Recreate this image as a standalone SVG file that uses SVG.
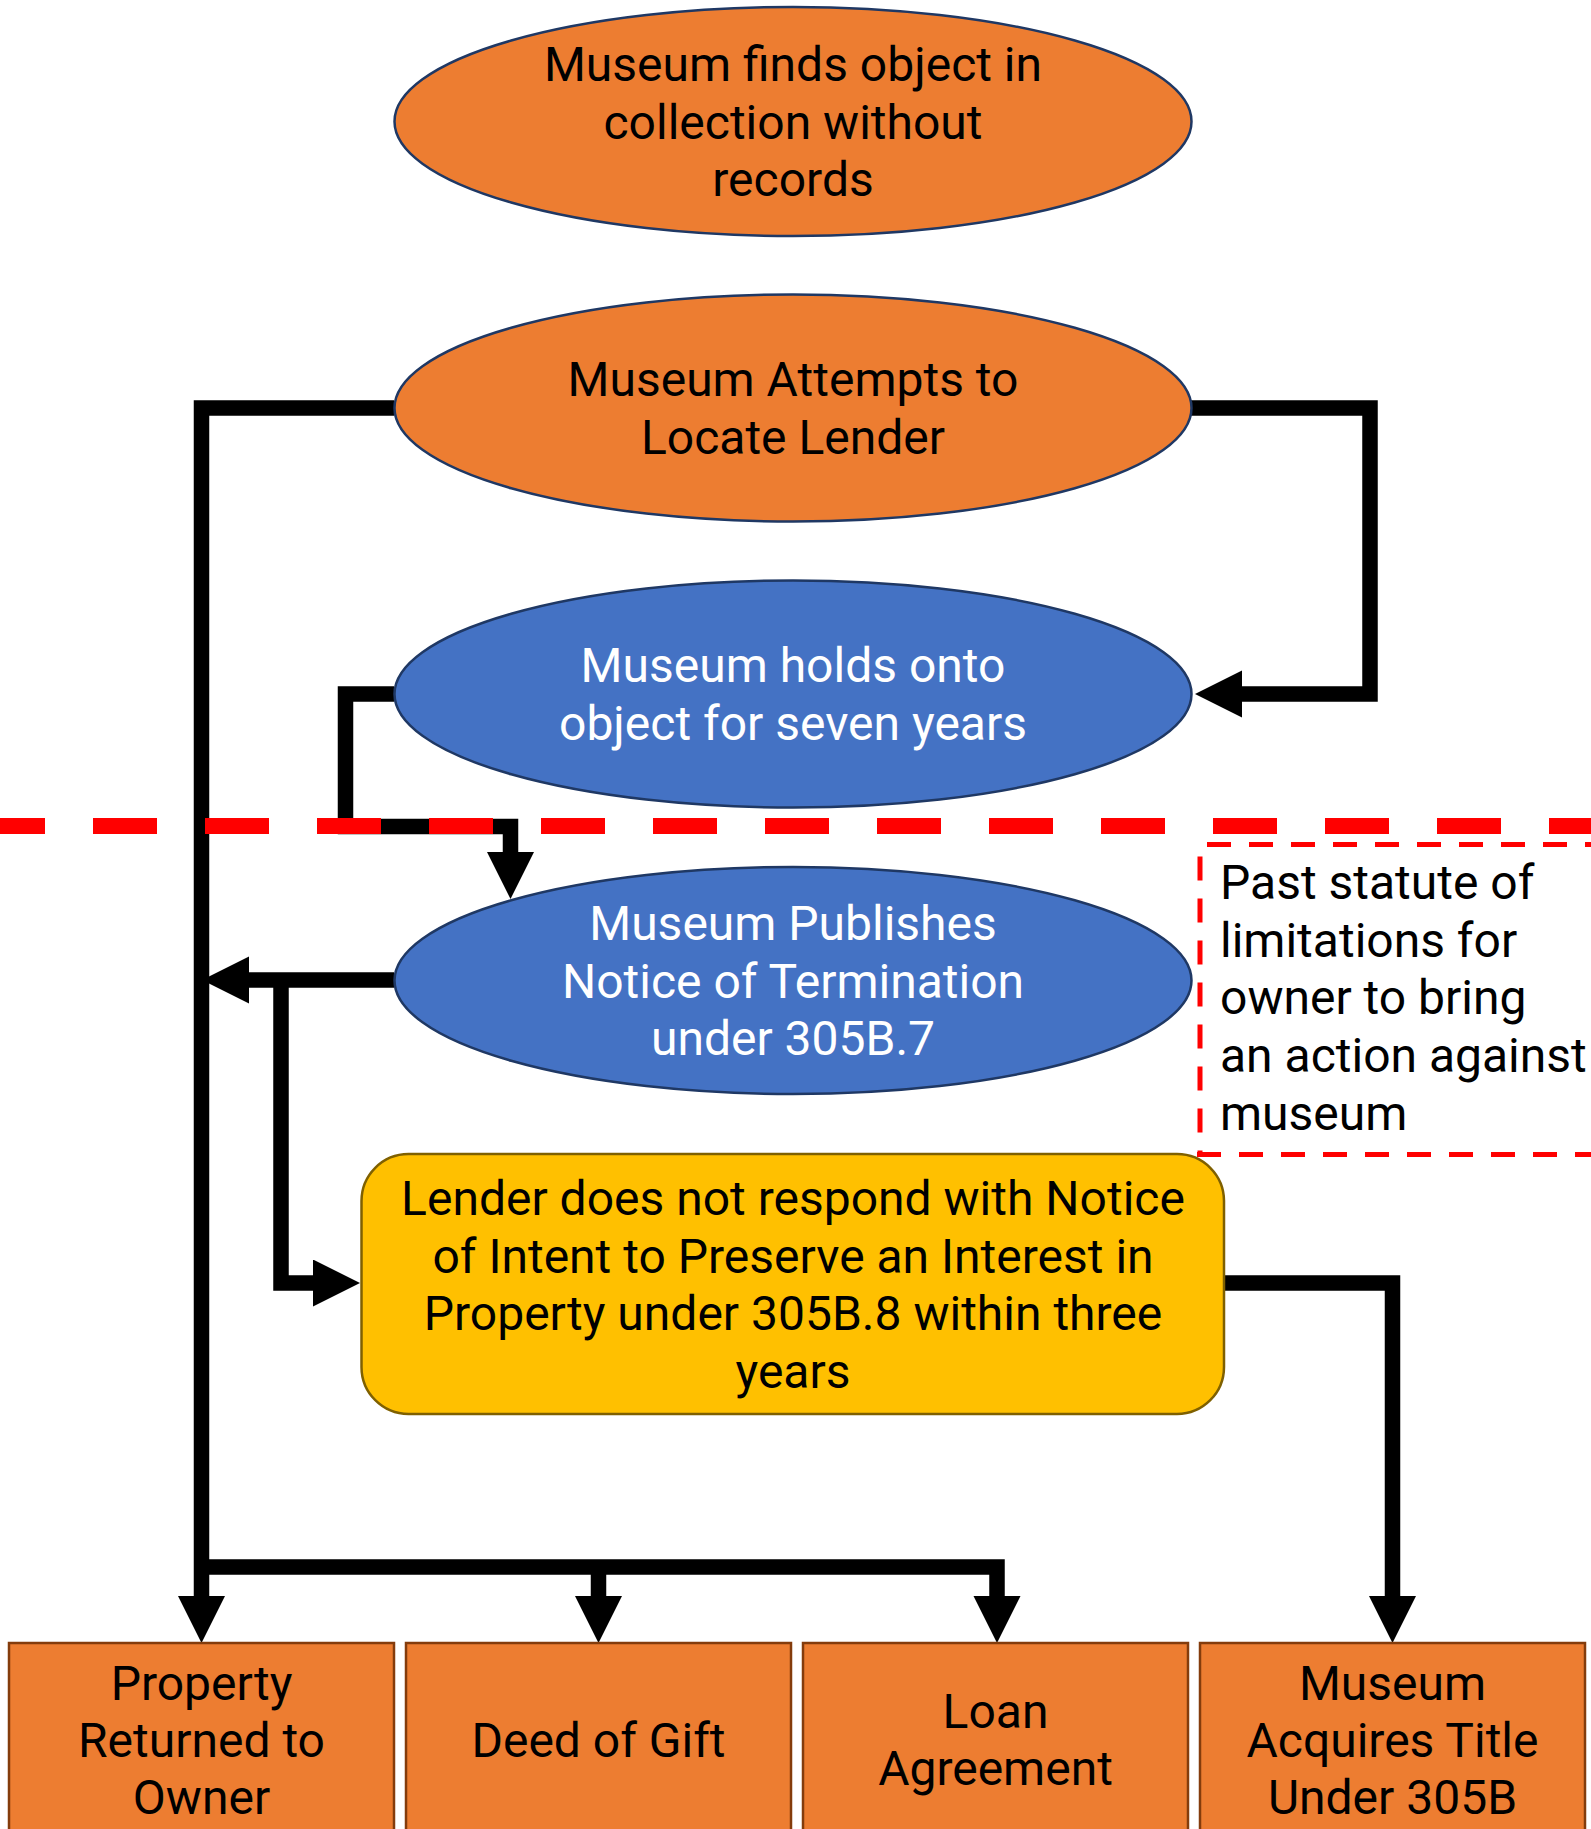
<svg xmlns="http://www.w3.org/2000/svg" width="1591" height="1829" viewBox="0 0 1591 1829">
<style>
.t{font-family:Roboto,"Liberation Sans",sans-serif;font-size:48px;text-anchor:middle;fill:#000}
.w{fill:#fff}
.l{text-anchor:start}
.eo{fill:#ED7D31;stroke:#1F3864;stroke-width:2.5}
.eb{fill:#4472C4;stroke:#1F3864;stroke-width:2.5}
.bx{fill:#ED7D31;stroke:#843C0C;stroke-width:2.5}
.yl{fill:#FFC000;stroke:#7F6000;stroke-width:2.5}
.c{fill:none;stroke:#000;stroke-width:15.5;stroke-linejoin:miter;stroke-linecap:butt;marker-end:url(#ah)}
.rd{fill:none;stroke:#FF0000;stroke-width:5;stroke-dasharray:24 18}
</style>
<defs>
<marker id="ah" markerUnits="userSpaceOnUse" markerWidth="48" markerHeight="48" refX="0" refY="23.5" orient="auto" viewBox="0 0 48 48">
<path d="M0,0 L47,23.5 L0,47 z" fill="#000"/>
</marker>
</defs>

<g id="connectors">
<path class="c" d="M1191,408 H1370 V694 H1242"/>
<path class="c" d="M394,694 H345.5 V826.5 H510.5 V852"/>
<path class="c" d="M394,980 H249"/>
<path class="c" d="M281,980 V1283 H313"/>
<path class="c" d="M394,408 H201.5 V1596"/>
<path class="c" d="M201.5,1567 H997 V1596"/>
<path class="c" d="M598.5,1567 V1596"/>
<path class="c" d="M1224,1283 H1392.5 V1596"/>
</g>

<g id="n1">
<ellipse class="eo" cx="793" cy="121.5" rx="398.5" ry="114.5"/>
<text class="t" x="793" y="81">Museum finds object in</text>
<text class="t" x="793" y="138.5">collection without</text>
<text class="t" x="793" y="196">records</text>
</g>

<g id="n2">
<ellipse class="eo" cx="793" cy="408" rx="398.5" ry="113.5"/>
<text class="t" x="793" y="396">Museum Attempts to</text>
<text class="t" x="793" y="453.5">Locate Lender</text>
</g>

<g id="n3">
<ellipse class="eb" cx="793" cy="694" rx="398.5" ry="113.5"/>
<text class="t w" x="793" y="682">Museum holds onto</text>
<text class="t w" x="793" y="739.5">object for seven years</text>
</g>

<g id="n4">
<ellipse class="eb" cx="793" cy="980.5" rx="398.5" ry="113.5"/>
<text class="t w" x="793" y="940">Museum Publishes</text>
<text class="t w" x="793" y="997.5">Notice of Termination</text>
<text class="t w" x="793" y="1055">under 305B.7</text>
</g>

<g id="n5">
<rect class="yl" x="361.5" y="1154" width="862.5" height="260" rx="47" ry="47"/>
<text class="t" x="793" y="1215">Lender does not respond with Notice</text>
<text class="t" x="793" y="1272.5">of Intent to Preserve an Interest in</text>
<text class="t" x="793" y="1330">Property under 305B.8 within three</text>
<text class="t" x="793" y="1387.5">years</text>
</g>

<g id="b1">
<rect class="bx" x="9" y="1643" width="385" height="200"/>
<text class="t" x="201.5" y="1700">Property</text>
<text class="t" x="201.5" y="1757">Returned to</text>
<text class="t" x="201.5" y="1814">Owner</text>
</g>
<g id="b2">
<rect class="bx" x="406" y="1643" width="385" height="200"/>
<text class="t" x="598.5" y="1757">Deed of Gift</text>
</g>
<g id="b3">
<rect class="bx" x="803" y="1643" width="385" height="200"/>
<text class="t" x="995.5" y="1728">Loan</text>
<text class="t" x="995.5" y="1785">Agreement</text>
</g>
<g id="b4">
<rect class="bx" x="1200" y="1643" width="385" height="200"/>
<text class="t" x="1392.5" y="1700">Museum</text>
<text class="t" x="1392.5" y="1757">Acquires Title</text>
<text class="t" x="1392.5" y="1814">Under 305B</text>
</g>

<g id="boundary">
<line x1="0" y1="826" x2="1591" y2="826" stroke="#FF0000" stroke-width="16" stroke-dasharray="64 48" stroke-dashoffset="19"/>
</g>

<g id="note">
<line class="rd" x1="1200" y1="844.5" x2="1591" y2="844.5" stroke-dashoffset="35"/>
<line class="rd" x1="1200" y1="844.5" x2="1200" y2="1154.5" stroke-dashoffset="30"/>
<line class="rd" x1="1197" y1="1154.5" x2="1591" y2="1154.5"/>
<text class="t l" x="1220" y="899">Past statute of</text>
<text class="t l" x="1220" y="957">limitations for</text>
<text class="t l" x="1220" y="1014">owner to bring</text>
<text class="t l" x="1220" y="1072">an action against</text>
<text class="t l" x="1220" y="1130">museum</text>
</g>
</svg>
